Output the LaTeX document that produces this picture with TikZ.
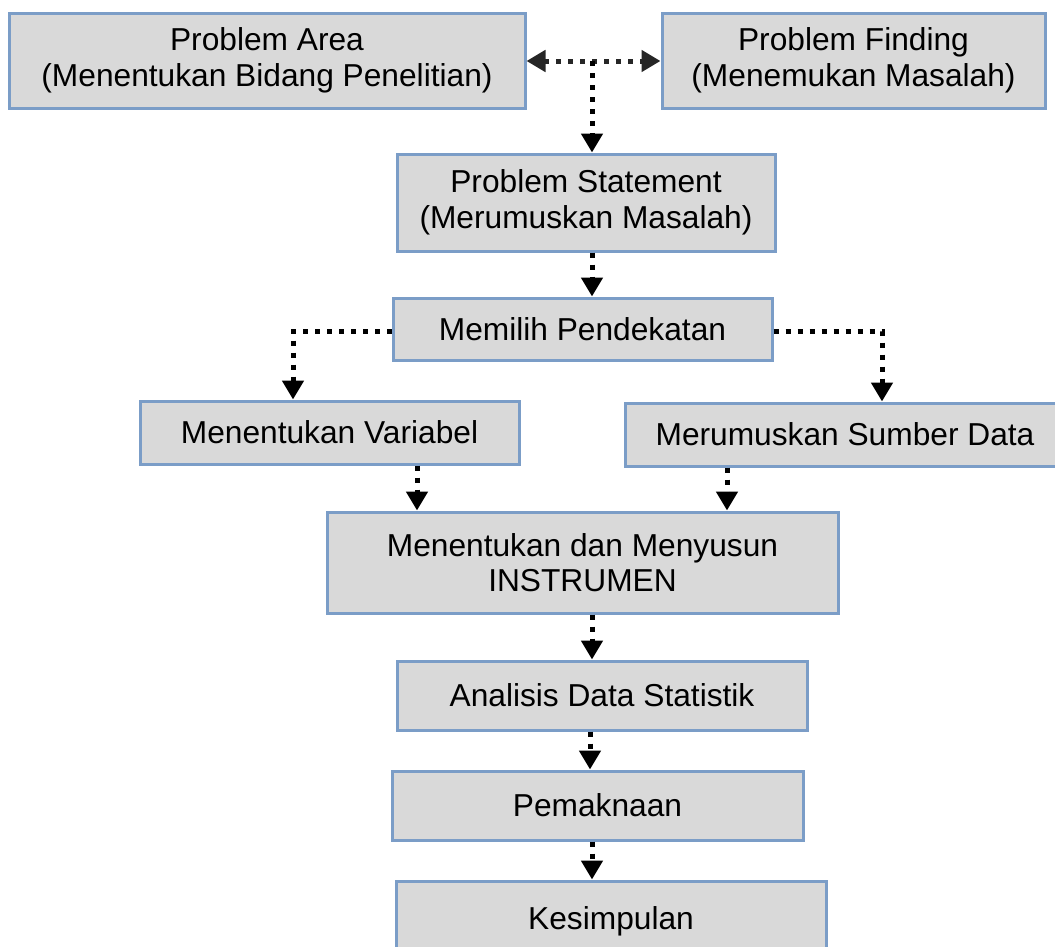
\documentclass[tikz,border=0pt]{standalone}
\usepackage{fontspec}
\setmainfont{Liberation Sans}
\usetikzlibrary{arrows.meta}
\definecolor{boxfill}{HTML}{D9D9D9}
\definecolor{boxline}{HTML}{7B9DC7}
\tikzset{
  box/.style={draw=boxline, fill=boxfill, line width=3pt, inner sep=0pt, align=center,
    font=\fontsize{31.7}{35.5}\selectfont},
  flow/.style={line width=5pt, dash pattern=on 5pt off 7pt, draw=black,
    -{Triangle[width=21pt,length=19pt]}},
  flowtop/.style={flow, draw=black!85, {Triangle[width=21pt,length=19pt]}-{Triangle[width=21pt,length=19pt]}},
}
\begin{document}
\begin{tikzpicture}[x=1pt,y=-1pt]
\useasboundingbox (0,0) rectangle (1055,946);
\node[box, minimum width=516pt, minimum height=95pt] (area) at (267,60.5) {Problem Area\\(Menentukan Bidang Penelitian)};
\node[box, minimum width=383pt, minimum height=95pt] (find) at (853.5,60.5) {Problem Finding\\(Menemukan Masalah)};
\node[box, minimum width=378pt, minimum height=97pt] (stmt) at (586,202.5) {Problem Statement\\(Merumuskan Masalah)};
\node[box, minimum width=379pt, minimum height=62pt] (pend) at (582.5,329) {Memilih Pendekatan};
\node[box, minimum width=379pt, minimum height=63pt] (var) at (329.5,432.5) {Menentukan Variabel};
\node[box, minimum width=440pt, minimum height=63pt] (sumber) at (845,434.5) {Merumuskan Sumber Data};
\node[box, minimum width=511pt, minimum height=101pt] (instr) at (582.5,562.5) {Menentukan dan Menyusun\\INSTRUMEN};
\node[box, minimum width=410pt, minimum height=69pt] (anal) at (602,695.5) {Analisis Data Statistik};
\node[box, minimum width=411pt, minimum height=69pt] (makna) at (597.5,805.5) {Pemaknaan};
\node[box, minimum width=430pt, minimum height=100pt, text depth=0pt] (simp) at (611,931) {\raisebox{26pt}{Kesimpulan}};
% connectors
\coordinate (tj) at (592,61);
\draw[flowtop] (area.east |- tj) -- (find.west |- tj);
\draw[flow] (tj) -- (stmt.north -| tj);
\draw[flow] (stmt.south -| 592,0) -- (pend.north -| 592,0);
\coordinate (lc) at (293,331);
\coordinate (rc) at (882,331);
\draw[flow] (pend.west |- lc) -- (lc) -- (var.north -| lc);
\draw[flow] (pend.east |- rc) -- (rc) -- (sumber.north -| rc);
\draw[flow] (var.south -| 417,0) -- (instr.north -| 417,0);
\draw[flow] (sumber.south -| 727,0) -- (instr.north -| 727,0);
\draw[flow] (instr.south -| 592,0) -- (anal.north -| 592,0);
\draw[flow] (anal.south -| 590,0) -- (makna.north -| 590,0);
\draw[flow] (makna.south -| 592,0) -- (simp.north -| 592,0);
\end{tikzpicture}
\end{document}
